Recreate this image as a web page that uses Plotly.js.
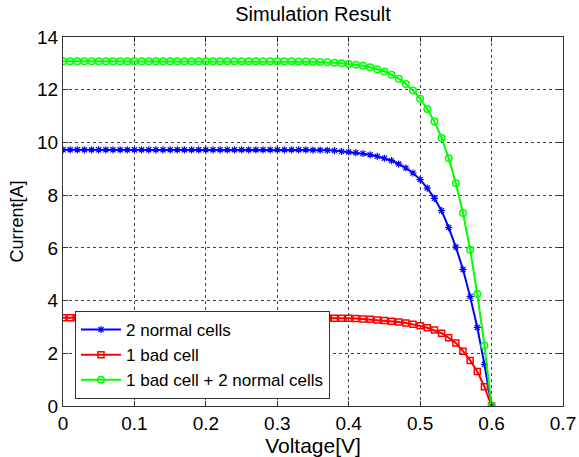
<!DOCTYPE html>
<html>
<head>
<meta charset="utf-8">
<script src="https://cdn.plot.ly/plotly-3.0.1.min.js"></script>
<style>html,body{margin:0;padding:0;background:#fff;}#chart{width:579px;height:457px;}</style>
</head>
<body>
<div id="chart"></div>
<script>
var voltage = [0.00,0.01,0.02,0.03,0.04,0.05,0.06,0.07,0.08,0.09,
  0.10,0.11,0.12,0.13,0.14,0.15,0.16,0.17,0.18,0.19,
  0.20,0.21,0.22,0.23,0.24,0.25,0.26,0.27,0.28,0.29,
  0.30,0.31,0.32,0.33,0.34,0.35,0.36,0.37,0.38,0.39,
  0.40,0.41,0.42,0.43,0.44,0.45,0.46,0.47,0.48,0.49,
  0.50,0.51,0.52,0.53,0.54,0.55,0.56,0.57,0.58,0.59,0.60];

var twoNormal = [9.72,9.72,9.72,9.72,9.72,9.72,9.72,9.72,9.72,9.72,
  9.72,9.72,9.72,9.72,9.72,9.72,9.72,9.72,9.72,9.72,
  9.72,9.72,9.72,9.72,9.72,9.72,9.72,9.72,9.72,9.72,
  9.72,9.72,9.72,9.72,9.72,9.71,9.71,9.70,9.69,9.66,
  9.64,9.61,9.58,9.53,9.47,9.40,9.31,9.18,9.03,8.84,
  8.59,8.27,7.88,7.41,6.77,6.03,5.18,4.15,2.98,1.58,0.00];

var oneBad = [3.35,3.35,3.35,3.35,3.35,3.35,3.35,3.35,3.35,3.35,
  3.35,3.35,3.35,3.35,3.35,3.35,3.35,3.35,3.35,3.35,
  3.35,3.35,3.35,3.35,3.35,3.35,3.35,3.35,3.35,3.35,
  3.35,3.35,3.35,3.35,3.35,3.35,3.34,3.34,3.33,3.33,
  3.33,3.32,3.30,3.29,3.26,3.24,3.22,3.19,3.15,3.10,
  3.04,2.97,2.88,2.76,2.59,2.39,2.08,1.73,1.31,0.73,0.00];

var badPlusNormal = [13.08,13.08,13.08,13.08,13.08,13.08,13.08,13.08,13.08,13.08,
  13.08,13.08,13.08,13.08,13.08,13.08,13.08,13.08,13.08,13.08,
  13.08,13.08,13.08,13.08,13.08,13.08,13.08,13.08,13.08,13.08,
  13.08,13.08,13.08,13.07,13.07,13.06,13.05,13.04,13.02,13.00,
  12.98,12.95,12.91,12.85,12.78,12.69,12.57,12.42,12.22,11.97,
  11.66,11.27,10.79,10.17,9.40,8.45,7.32,5.93,4.25,2.30,0.00];

var seriesNames = ['2 normal cells', '1 bad cell', '1 bad cell + 2 normal cells'];
var xTicks = [0, 0.1, 0.2, 0.3, 0.4, 0.5, 0.6, 0.7];
var xTickLabels = ['0', '0.1', '0.2', '0.3', '0.4', '0.5', '0.6', '0.7'];
var yTicks = [0, 2, 4, 6, 8, 10, 12, 14];

var FONT = 'Liberation Sans, Arial, sans-serif';

var traces = [
  {x: voltage, y: twoNormal, name: seriesNames[0], type: 'scatter', mode: 'lines+markers',
   line: {color: '#0000ff', width: 2},
   marker: {symbol: 'asterisk-open', size: 6, color: '#0000ff', line: {color: '#0000ff', width: 1.2}}},
  {x: voltage, y: oneBad, name: seriesNames[1], type: 'scatter', mode: 'lines+markers',
   line: {color: '#ff0000', width: 2},
   marker: {symbol: 'square-open', size: 6, color: '#ff0000', line: {color: '#ff0000', width: 1.5}}},
  {x: voltage, y: badPlusNormal, name: seriesNames[2], type: 'scatter', mode: 'lines+markers',
   line: {color: '#00ff00', width: 2},
   marker: {symbol: 'circle-open', size: 6.5, color: '#00ff00', line: {color: '#00ff00', width: 1.5}}}
];

var axisCommon = {
  showline: true, linecolor: '#333333', linewidth: 1, mirror: 'ticks',
  ticks: 'inside', ticklen: 5, tickcolor: '#333333', tickwidth: 1,
  showgrid: true, gridcolor: '#444444', gridwidth: 1, griddash: 'dot',
  zeroline: false, tickfont: {family: FONT, size: 19, color: '#000'}
};

var layout = {
  width: 579, height: 457,
  paper_bgcolor: '#ffffff', plot_bgcolor: '#ffffff',
  margin: {l: 63, r: 15.5, t: 36.5, b: 51, pad: 0},
  title: {text: 'Simulation Result', font: {family: FONT, size: 20, color: '#000'},
          x: 0.5, xanchor: 'center', xref: 'paper', y: 0.969, yanchor: 'middle', yref: 'container'},
  xaxis: Object.assign({}, axisCommon, {
    range: [0, 0.7], tickvals: xTicks, ticktext: xTickLabels,
    title: {text: 'Voltage[V]', font: {family: FONT, size: 21, color: '#000'}, standoff: 1}
  }),
  yaxis: Object.assign({}, axisCommon, {
    range: [0, 14], tickvals: yTicks,
    title: {text: 'Current[A]', font: {family: FONT, size: 18, color: '#000'}, standoff: 8}
  }),
  showlegend: true,
  legend: {x: 0.024, y: 0.019, xanchor: 'left', yanchor: 'bottom',
           bgcolor: '#ffffff', bordercolor: '#333333', borderwidth: 1, itemwidth: 40,
           font: {family: FONT, size: 17, color: '#000'}, tracegroupgap: 0}
};

Plotly.newPlot('chart', traces, layout, {displayModeBar: false, staticPlot: true});
</script>
</body>
</html>
